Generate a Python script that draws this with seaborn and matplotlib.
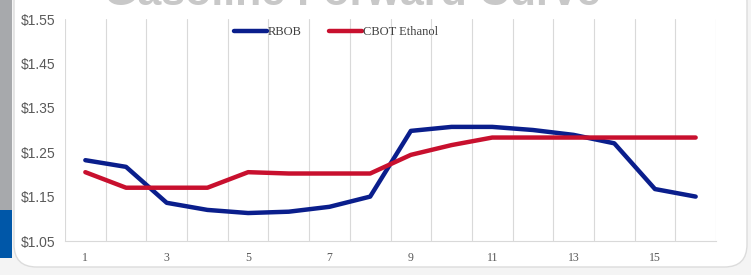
import matplotlib
matplotlib.use("Agg")
import matplotlib.pyplot as plt
import seaborn as sns
import pandas as pd
from matplotlib.patches import Rectangle, FancyBboxPatch

months = list(range(1, 17))
rbob = [1.232, 1.217, 1.136, 1.120, 1.113, 1.116, 1.127, 1.150,
        1.298, 1.307, 1.307, 1.300, 1.289, 1.270, 1.167, 1.150]
ethanol = [1.205, 1.170, 1.170, 1.170, 1.205, 1.202, 1.202, 1.202,
           1.244, 1.266, 1.283, 1.283, 1.283, 1.283, 1.283, 1.283]
series_names = ["RBOB", "CBOT Ethanol"]
y_ticks = [1.05, 1.15, 1.25, 1.35, 1.45, 1.55]
title = "Gasoline Forward Curve"

df = pd.concat([
    pd.DataFrame({"month": months, "price": rbob, "series": series_names[0]}),
    pd.DataFrame({"month": months, "price": ethanol, "series": series_names[1]}),
])

sns.set_theme(style="white")
plt.rcParams['font.family'] = ['Liberation Serif', 'DejaVu Serif']

W, H = 751, 275
fig = plt.figure(figsize=(W / 100, H / 100), dpi=100)
fig.patch.set_facecolor("#f4f4f4")

def fx(px):
    return px / W

def fy(py):
    return 1 - py / H

# decorations
fig.patches.append(FancyBboxPatch((fx(14), fy(267)), fx(733), fy(-20) - fy(267),
                                  boxstyle="round,pad=0,rounding_size=0.03",
                                  transform=fig.transFigure, facecolor="white",
                                  edgecolor="#dcdcdc", linewidth=1, zorder=-2,
                                  mutation_aspect=W / H))
fig.patches.append(Rectangle((0, fy(210)), fx(12), fy(0) - fy(210),
                             transform=fig.transFigure, facecolor="#a7a9ac",
                             edgecolor="none", zorder=-1))
fig.patches.append(Rectangle((0, fy(258)), fx(12), fy(210) - fy(258),
                             transform=fig.transFigure, facecolor="#0057a8",
                             edgecolor="none", zorder=-1))

fig.text(fx(352), fy(5), title, ha="center", va="baseline", fontsize=31,
         fontweight="bold", color="#c8c8c8", family=["Liberation Sans", "DejaVu Sans"],
         zorder=-1)

ax = fig.add_axes([fx(65), fy(241), fx(716) - fx(65), fy(19) - fy(241)])
ax.set_zorder(1)
ax.set_facecolor("none")

palette = {series_names[0]: "#0a1e8c", series_names[1]: "#c8102e"}
sns.lineplot(data=df, x="month", y="price", hue="series", palette=palette,
             linewidth=3.2, ax=ax, legend=True)

ax.set_xlim(0.5, 16.5)
ax.set_ylim(1.05, 1.55)
ax.set_xticks(months[::2])
ax.set_xticklabels([str(m) for m in months[::2]])
ax.set_xticks([m - 0.5 for m in months] + [16.5], minor=True)
ax.grid(which="minor", axis="x", color="#d9d9d9", linewidth=0.8)
ax.grid(which="major", axis="both", visible=False)
ax.set_yticks(y_ticks)
ax.set_yticklabels([f"${v:.2f}" for v in y_ticks])
ax.tick_params(axis="both", which="both", length=0, colors="#595959")
ax.tick_params(axis="x", pad=8, labelsize=8.5)
ax.tick_params(axis="y", pad=7, labelsize=10)
for lab in ax.get_yticklabels():
    lab.set_family(["Liberation Sans", "DejaVu Sans"])
for s in ["top", "right", "left"]:
    ax.spines[s].set_visible(False)
ax.spines["bottom"].set_color("#d9d9d9")
ax.spines["bottom"].set_linewidth(0.8)
ax.set_xlabel("")
ax.set_ylabel("")

leg = ax.legend(loc="center", bbox_to_anchor=(fx(336), fy(32)),
                bbox_transform=fig.transFigure, ncol=2, frameon=False,
                fontsize=9, handlelength=2.6, handletextpad=0.1,
                columnspacing=2.2)
for t in leg.get_texts():
    t.set_color("#404040")
for l in leg.get_lines():
    l.set_linewidth(3.2)

fig.savefig("out.png", dpi=100, facecolor=fig.get_facecolor())
